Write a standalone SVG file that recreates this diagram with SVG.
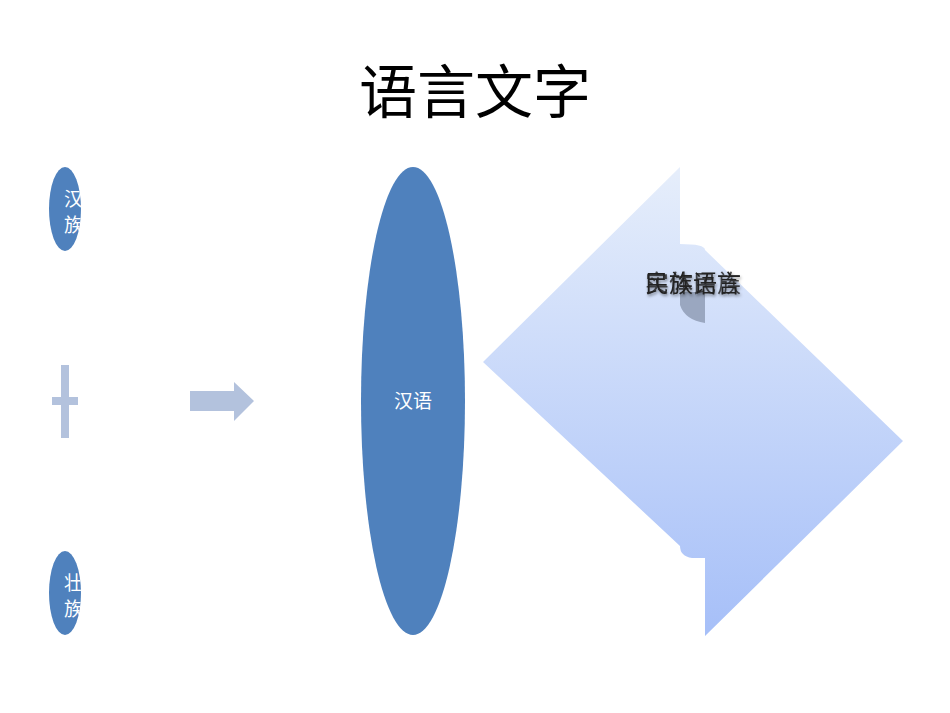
<svg xmlns="http://www.w3.org/2000/svg" width="950" height="713" viewBox="0 0 950 713">
<style>
text{font-family:"Noto Sans CJK SC","Liberation Sans",sans-serif}
.node{fill:#4f81bd}
.wt{fill:#fff;font-size:19px}
.lt{fill:#b3c2dd}
</style>
<defs>
<linearGradient id="g" x1="0" y1="0" x2="0" y2="1"><stop offset="0" stop-color="#e6eefb"/><stop offset="1" stop-color="#a6bff8"/></linearGradient>
<clipPath id="c1"><ellipse cx="65" cy="209" rx="16" ry="42"/></clipPath>
<clipPath id="c2"><ellipse cx="65" cy="593" rx="16" ry="42"/></clipPath>
<filter id="sh"><feDropShadow dx="1" dy="2" stdDeviation="1.5" flood-color="#000" flood-opacity="0.4"/></filter>
</defs>
<rect width="950" height="713" fill="#fff"/>
<text x="475" y="113" text-anchor="middle" font-size="58" fill="#000">语言文字</text>
<g id="n1"><ellipse class="node" cx="65" cy="209" rx="16" ry="42"/><g clip-path="url(#c1)"><text class="wt" x="64" y="206">汉</text><text class="wt" x="64" y="232">族</text></g></g>
<g id="plus"><rect class="lt" x="61" y="365" width="8" height="73"/><rect class="lt" x="52" y="397" width="26" height="8"/></g>
<g id="n2"><ellipse class="node" cx="65" cy="593" rx="16" ry="42"/><g clip-path="url(#c2)"><text class="wt" x="64" y="590">壮</text><text class="wt" x="64" y="616">族</text></g></g>
<g id="connectors"><polygon class="lt" points="190,391 234,391 234,382 254,401 234,421 234,411 190,411"/></g>
<g id="n3"><ellipse class="node" cx="413" cy="401" rx="52" ry="234"/><text class="wt" x="413" y="408" text-anchor="middle">汉语</text></g>
<g id="n4">
<path d="M680,167 L680,244 Q705,244 705,250 L903,441 L705,636 L705,558 L692,558 Q680,556 680,546 L483,362 Z" fill="url(#g)"/>
<path d="M680,292 L705,292 L705,323 Q685,320 680,305 Z" fill="#9aa7c0"/>
<g filter="url(#sh)" font-size="24" fill="#222"><text x="693" y="292" text-anchor="middle">民族语言</text><text x="693" y="292" text-anchor="middle" fill-opacity="0.8">实体民族</text></g>
</g>
</svg>
